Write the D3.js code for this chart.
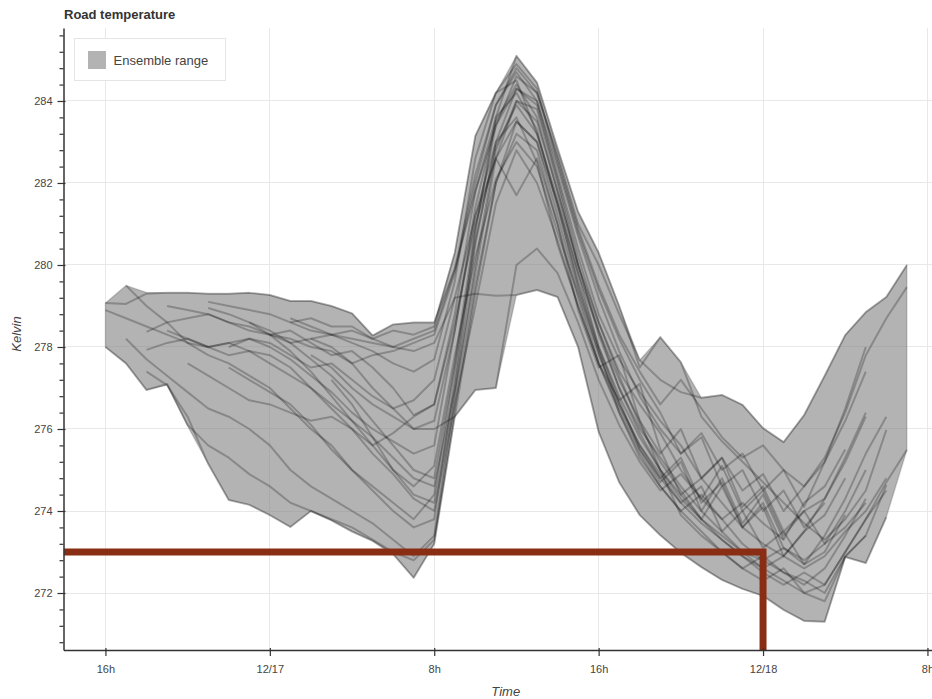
<!DOCTYPE html>
<html>
<head>
<meta charset="utf-8">
<script src="https://cdn.jsdelivr.net/npm/d3@7"></script>
<style>
  html, body { margin: 0; padding: 0; background: #fff; }
  svg { display: block; font-family: "Liberation Sans", Arial, Helvetica, sans-serif; }
</style>
</head>
<body>
<svg id="chart" width="932" height="699"></svg>
<script>
// Road temperature ensemble forecast (Kelvin), hourly steps from 12/16 16h.
const forecastStart = new Date(2016, 11, 16, 16);

// Envelope of the ensemble, one value per forecast hour (0..39).
const ensembleMin = [
  278.0, 277.6, 276.95, 277.07, 276.07, 275.15, 274.27, 274.15, 273.9, 273.61,
  274.0, 273.77, 273.5, 273.27, 272.95, 272.37, 273.2, 276.3, 276.95, 277.0,
  279.27, 279.39, 279.22, 278.0, 275.93, 274.7, 273.9, 273.41, 272.98, 272.63,
  272.32, 272.1, 271.93, 271.59, 271.32, 271.3, 272.88, 272.73, 273.85, 275.49
];
const ensembleMax = [
  279.07, 279.5, 279.33, 279.32, 279.32, 279.3, 279.3, 279.32, 279.27, 279.12,
  279.12, 279.0, 278.82, 278.28, 278.55, 278.6, 278.6, 280.3, 283.15, 284.2,
  285.1, 284.45, 282.85, 281.3, 280.3, 279.0, 277.68, 278.24, 277.63, 276.76,
  276.83, 276.59, 276.02, 275.68, 276.34, 277.3, 278.29, 278.85, 279.22, 280.0
];

// Individual members: first forecast hour of each run, then its hourly values.
const memberStart = [0, 0, 0, 1, 1, 2, 2, 2, 3, 3, 4, 5, 5, 6, 6, 7, 8, 9, 10, 9, 10, 11];
const memberTemps = [
  [279.07, 279.05, 279.3, 279.32, 279.32, 279.3, 279.3, 279.32, 279.27, 279.12,
   279.12, 279.0, 278.82, 278.28, 278.55, 278.6, 278.6, 279.9, 281.8, 283.4,
   284.6, 284.2, 282.7, 281.0, 280.0, 278.8, 277.68, 277.2, 276.9, 276.76,
   276.83, 276.59, 276.02, 275.68, 276.34, 277.3, 278.29, 278.85, 279.22, 280.0],
  [278.9, 278.7, 278.5, 278.3, 278.1, 278.0, 278.1, 277.9, 277.6, 277.3,
   277.0, 276.6, 276.2, 275.8, 275.3, 274.8, 274.6, 277.0, 280.5, 283.0,
   284.3, 284.0, 282.2, 280.4, 278.8, 277.7, 276.9, 276.2, 275.6, 274.8,
   275.3, 274.5, 274.9, 274.0, 274.6, 275.3, 276.4, 277.8, 278.7, 279.46],
  [278.0, 277.6, 276.95, 277.1, 276.1, 275.6, 275.3, 274.9, 274.6, 274.2,
   274.0, 273.8, 273.6, 273.3, 273.0, 272.8, 273.3, 276.5, 279.5, 282.0,
   283.5, 283.0, 281.5, 279.8, 278.0, 276.8, 275.8, 275.0, 274.4, 273.8,
   273.4, 273.0, 272.8, 272.5, 272.3, 272.0, 272.9, 273.4],
  [279.5, 279.0, 278.6, 278.1, 277.8, 277.6, 277.3, 277.0, 276.5, 276.0,
   275.6, 275.0, 274.5, 274.0, 273.6, 273.8, 277.2, 280.8, 283.6, 285.1,
   284.45, 282.85, 281.3, 280.3, 279.0, 277.5, 278.24, 277.63, 276.3, 275.7,
   275.2, 274.7, 274.2, 273.7, 273.3, 273.8, 274.5, 275.98],
  [278.2, 277.7, 277.3, 276.9, 276.5, 276.3, 276.0, 275.6, 275.0, 274.6,
   274.3, 274.0, 273.7, 273.3, 272.9, 273.4, 276.8, 279.8, 282.6, 284.0,
   283.8, 282.0, 280.0, 278.3, 277.0, 276.0, 275.3, 274.6, 274.0, 273.5,
   273.0, 272.6, 272.3, 272.0, 271.8, 272.88, 273.4, 274.63],
  [278.37, 278.6, 278.7, 278.8, 278.6, 278.5, 278.3, 278.2, 278.0,
   277.9, 277.6, 277.8, 277.9, 278.1, 278.3, 279.8, 282.0, 283.9, 284.7,
   284.0, 282.4, 280.7, 279.2, 277.9, 276.8, 276.0, 275.4, 275.9, 275.0,
   275.4, 274.5, 275.0, 274.1, 275.2, 276.5, 278.0],
  [277.93, 278.1, 278.2, 278.0, 278.1, 278.2, 278.0, 277.7, 277.3,
   276.9, 276.4, 276.0, 275.7, 275.4, 275.6, 278.4, 281.4, 283.5, 284.4,
   283.6, 281.8, 280.0, 278.6, 277.4, 276.6, 275.9, 275.0, 274.3, 275.1,
   274.0, 274.5, 273.4, 274.0, 274.3, 275.2, 276.3],
  [277.4, 277.07, 276.3, 275.15, 274.27, 274.15, 273.9, 273.61, 274.0,
   273.77, 273.5, 273.27, 272.95, 272.37, 273.2, 276.3, 279.3, 282.0, 283.2,
   282.8, 281.0, 279.2, 277.6, 276.4, 275.3, 274.6, 274.0, 273.5, 273.0,
   272.6, 272.3, 272.6, 272.0, 272.2, 273.0, 273.8, 274.7, 275.49],
  [279.0, 278.9, 278.8, 278.6, 278.4, 278.3, 278.1, 278.2,
   278.3, 278.1, 277.9, 277.6, 277.4, 277.7, 279.6, 282.6, 284.2, 284.5,
   283.2, 281.6, 279.8, 278.4, 277.2, 276.2, 275.4, 276.0, 274.8, 275.3,
   274.1, 274.6, 273.5, 274.0, 273.2, 273.6, 274.2],
  [278.4, 278.2, 278.0, 277.8, 277.9, 277.8, 277.5, 277.0,
   276.5, 276.0, 275.4, 274.9, 274.3, 274.0, 276.6, 279.0, 281.5, 282.8,
   282.0, 280.6, 279.0, 277.6, 276.7, 277.1, 275.5, 274.4, 274.8, 274.2,
   273.6, 273.2, 272.9, 272.6, 272.9, 273.5, 274.0, 274.8],
  [277.6, 277.3, 277.0, 276.7, 276.6, 276.4, 276.2,
   276.3, 276.0, 275.6, 275.9, 276.3, 276.6, 278.8, 281.8, 283.6, 284.2,
   283.3, 281.4, 279.6, 278.0, 276.7, 275.5, 274.7, 275.2, 274.0, 274.8,
   273.7, 274.4, 273.3, 274.2, 274.6, 275.5],
  [279.1, 279.0, 278.9, 278.8, 278.6, 278.4,
   278.3, 278.4, 278.2, 278.0, 278.2, 278.4, 279.9, 282.2, 283.9, 284.8,
   284.2, 282.6, 280.9, 279.5, 278.3, 277.4, 276.6, 277.2, 276.5, 275.8,
   275.3, 275.6, 275.0, 274.6, 275.2, 276.2, 277.4],
  [278.95, 278.8, 278.6, 278.3, 277.9, 277.4,
   276.8, 276.2, 275.6, 275.0, 274.4, 274.2, 276.9, 280.0, 282.8, 284.0,
   283.5, 281.8, 280.0, 278.4, 277.0, 275.9, 275.0, 274.3, 273.8, 273.3,
   272.9, 272.5, 272.2, 272.5, 272.2, 273.0, 273.8, 274.5],
  [278.0, 278.2, 278.1, 277.8, 277.5,
   277.6, 277.2, 276.8, 276.5, 276.7, 277.2, 279.2, 281.2, 282.6, 283.5,
   283.0, 281.2, 279.4, 277.9, 276.6, 275.6, 274.9, 274.2, 274.6, 273.5,
   274.0, 273.1, 273.5, 272.7, 273.4, 274.3, 275.4, 276.3],
  [277.5, 277.2, 276.9, 276.6, 276.1,
   275.5, 275.0, 274.6, 274.2, 273.8, 274.4, 277.5, 280.6, 282.9, 283.9,
   283.2, 281.5, 279.5, 277.9, 276.4, 275.4, 274.6, 274.0, 274.4, 273.8,
   273.2, 272.8, 273.1, 272.7, 273.0, 273.9],
  [278.6, 278.4, 278.1, 277.7,
   277.3, 276.8, 276.2, 275.6, 275.0, 274.8, 277.6, 280.9, 283.4, 284.3,
   283.9, 282.1, 280.2, 278.6, 277.3, 276.1, 275.2, 274.5, 273.8, 274.6,
   273.6, 274.1, 272.9, 273.5, 273.9, 274.8],
  [278.3, 278.4, 278.1,
   277.8, 277.9, 277.5, 277.0, 276.34, 276.6, 278.6, 281.0, 282.6, 281.7,
   282.6, 281.0, 278.9, 277.5, 277.8, 276.2, 275.0, 273.9, 273.4, 273.0,
   272.6, 272.9, 272.5, 272.2, 272.6, 273.4, 274.3],
  [278.7, 278.5,
   278.3, 278.2, 278.1, 278.0, 277.9, 278.1, 279.2, 279.3, 279.25, 279.27,
   279.39, 279.22, 278.0, 275.93, 274.7, 273.9, 273.41, 272.98, 272.63, 272.32,
   272.1, 271.93, 271.59, 271.32, 271.3, 272.88, 272.73, 273.85],
  [277.8,
   277.5, 277.0, 276.6, 276.3, 276.0, 276.0, 276.3, 276.95, 277.0, 280.0,
   280.4, 279.8, 278.6, 277.2, 276.1, 275.2, 274.5, 274.9, 274.3, 273.8,
   274.2, 273.7, 273.3],
  [278.6, 278.7,
   278.5, 278.5, 278.2, 278.4, 278.3, 278.5, 280.3, 283.15, 284.2, 284.9,
   284.3, 282.5, 280.8, 279.4, 278.2, 277.2, 276.4, 275.4, 275.8, 274.6,
   275.0, 274.0, 274.5, 273.6, 274.2],
  [278.2,
   278.0, 277.6, 277.0, 276.5, 276.0, 276.2, 278.4, 281.2, 283.0, 283.6,
   282.5, 280.5, 279.0, 277.6, 276.5, 275.5, 274.8, 275.3, 274.2, 274.7,
   273.6, 274.2, 273.1, 272.8, 273.2, 274.0, 275.0],
  [277.2, 276.6, 275.8, 275.0, 274.6, 275.1, 277.8, 280.2, 282.1, 283.0,
   282.4, 280.8, 279.3, 277.8, 276.6, 275.6, 274.8, 274.2, 273.7, 273.3,
   272.9, 272.6, 272.9, 273.5, 274.3, 275.3, 276.4]
];

// Axis ticks.
const yTickValues = [272, 274, 276, 278, 280, 282, 284];
const xTickTimes = [
  new Date(2016, 11, 16, 16), new Date(2016, 11, 17, 0), new Date(2016, 11, 17, 8),
  new Date(2016, 11, 17, 16), new Date(2016, 11, 18, 0), new Date(2016, 11, 18, 8)
];
const xTickLabels = ["16h", "12/17", "8h", "16h", "12/18", "8h"];

// Freezing-risk marker: temperature level and the time it applies until.
const markerLevel = 273;
const markerTime = new Date(2016, 11, 18, 0);

// ---------------------------------------------------------------------------
const HOUR = 3600 * 1000;
const timeAt = h => new Date(forecastStart.getTime() + h * HOUR);

const frame = { left: 63.5, top: 28, right: 948, bottom: 650 };

const x = d3.scaleTime()
  .domain([timeAt(-2.04), timeAt(41)])
  .range([frame.left, frame.right]);
const y = d3.scaleLinear()
  .domain([270.61, 285.78])
  .range([frame.bottom, frame.top]);

const svg = d3.select("#chart");

svg.append("defs").append("clipPath").attr("id", "plot-clip")
  .append("rect")
  .attr("x", frame.left).attr("y", frame.top)
  .attr("width", frame.right - frame.left).attr("height", frame.bottom - frame.top);

// Grid
const grid = svg.append("g").attr("class", "grid")
  .attr("stroke", "#e8e8e8").attr("stroke-width", 1).attr("shape-rendering", "crispEdges");
grid.selectAll("line.gx").data(xTickTimes).join("line")
  .attr("class", "gx")
  .attr("x1", d => x(d)).attr("x2", d => x(d))
  .attr("y1", frame.top).attr("y2", frame.bottom);
grid.selectAll("line.gy").data(yTickValues).join("line")
  .attr("class", "gy")
  .attr("x1", frame.left).attr("x2", frame.right)
  .attr("y1", d => y(d)).attr("y2", d => y(d));

const plot = svg.append("g").attr("clip-path", "url(#plot-clip)");

// Ensemble range band
const hours = ensembleMin.map((_, i) => i);
const band = d3.area()
  .x(h => x(timeAt(h)))
  .y0(h => y(ensembleMin[h]))
  .y1(h => y(ensembleMax[h]));
plot.append("path")
  .datum(hours)
  .attr("d", band)
  .attr("fill", "gray").attr("fill-opacity", 0.6)
  .attr("stroke", "#000").attr("stroke-opacity", 0.15).attr("stroke-width", 1.5)
  .attr("stroke-linejoin", "round");

// Member lines
const memberLine = d3.line()
  .x(d => x(timeAt(d.h)))
  .y(d => y(d.v));
plot.append("g").selectAll("path")
  .data(memberTemps.map((vals, i) => vals.map((v, k) => ({ h: memberStart[i] + k, v }))))
  .join("path")
  .attr("d", memberLine)
  .attr("fill", "none")
  .attr("stroke", "#000").attr("stroke-opacity", 0.24)
  .attr("stroke-width", 2).attr("stroke-linejoin", "round");

// Freezing-risk marker
plot.append("path")
  .attr("d", `M${frame.left},${y(markerLevel)}H${x(markerTime)}V${frame.bottom}`)
  .attr("fill", "none")
  .attr("stroke", "#8a2d15").attr("stroke-width", 7).attr("stroke-linejoin", "miter");

// Axes
const axisColor = "#333";
const labelColor = "#444";

const xAxis = svg.append("g")
  .attr("transform", `translate(0,${frame.bottom})`)
  .call(d3.axisBottom(x).tickValues(xTickTimes).tickFormat((d, i) => xTickLabels[i])
    .tickSizeInner(6).tickSizeOuter(0).tickPadding(9));
xAxis.select(".domain").attr("stroke", axisColor).attr("stroke-width", 1.5);
xAxis.selectAll(".tick line").attr("stroke", axisColor).attr("y1", -2).attr("stroke-width", 1.2);
xAxis.selectAll(".tick text").attr("fill", labelColor).attr("font-size", 11)
  .attr("font-family", "Liberation Sans, Arial, sans-serif");

const yMinor = d3.range(38).map(i => +(270.8 + i * 0.4).toFixed(1))
  .filter(v => v <= 285.7 && !yTickValues.includes(v));
const yMinorAxis = svg.append("g")
  .attr("transform", `translate(${frame.left},0)`)
  .call(d3.axisLeft(y).tickValues(yMinor).tickFormat("").tickSizeInner(4).tickSizeOuter(0));
yMinorAxis.select(".domain").remove();
yMinorAxis.selectAll(".tick line").attr("stroke", axisColor).attr("stroke-width", 1.2);

const yAxis = svg.append("g")
  .attr("transform", `translate(${frame.left},0)`)
  .call(d3.axisLeft(y).tickValues(yTickValues).tickFormat(d3.format("d"))
    .tickSizeInner(6).tickSizeOuter(0).tickPadding(5));
yAxis.select(".domain").attr("stroke", axisColor).attr("stroke-width", 1.5);
yAxis.selectAll(".tick line").attr("stroke", axisColor).attr("x1", 2).attr("stroke-width", 1.2);
yAxis.selectAll(".tick text").attr("fill", labelColor).attr("font-size", 11)
  .attr("font-family", "Liberation Sans, Arial, sans-serif");

// Axis titles
svg.append("text")
  .attr("x", (frame.left + frame.right) / 2).attr("y", 696)
  .attr("text-anchor", "middle")
  .attr("font-size", 13).attr("font-style", "italic").attr("fill", labelColor)
  .text("Time");
svg.append("text")
  .attr("transform", `translate(21,${(frame.top + frame.bottom) / 2 - 5}) rotate(-90)`)
  .attr("text-anchor", "middle")
  .attr("font-size", 13).attr("font-style", "italic").attr("fill", labelColor)
  .text("Kelvin");

// Title
svg.append("text")
  .attr("x", 64).attr("y", 19)
  .attr("font-size", 13).attr("font-weight", "bold").attr("fill", "#333")
  .text("Road temperature");

// Legend
const legend = svg.append("g").attr("transform", "translate(74.5,38.5)");
legend.append("rect")
  .attr("width", 151).attr("height", 42)
  .attr("fill", "#fff").attr("fill-opacity", 0.95)
  .attr("stroke", "#e5e5e5").attr("stroke-width", 1);
legend.append("rect")
  .attr("x", 13.5).attr("y", 12.5).attr("width", 18).attr("height", 18)
  .attr("fill", "gray").attr("fill-opacity", 0.6);
legend.append("text")
  .attr("x", 39).attr("y", 26)
  .attr("font-size", 13).attr("fill", labelColor)
  .text("Ensemble range");
</script>
</body>
</html>
